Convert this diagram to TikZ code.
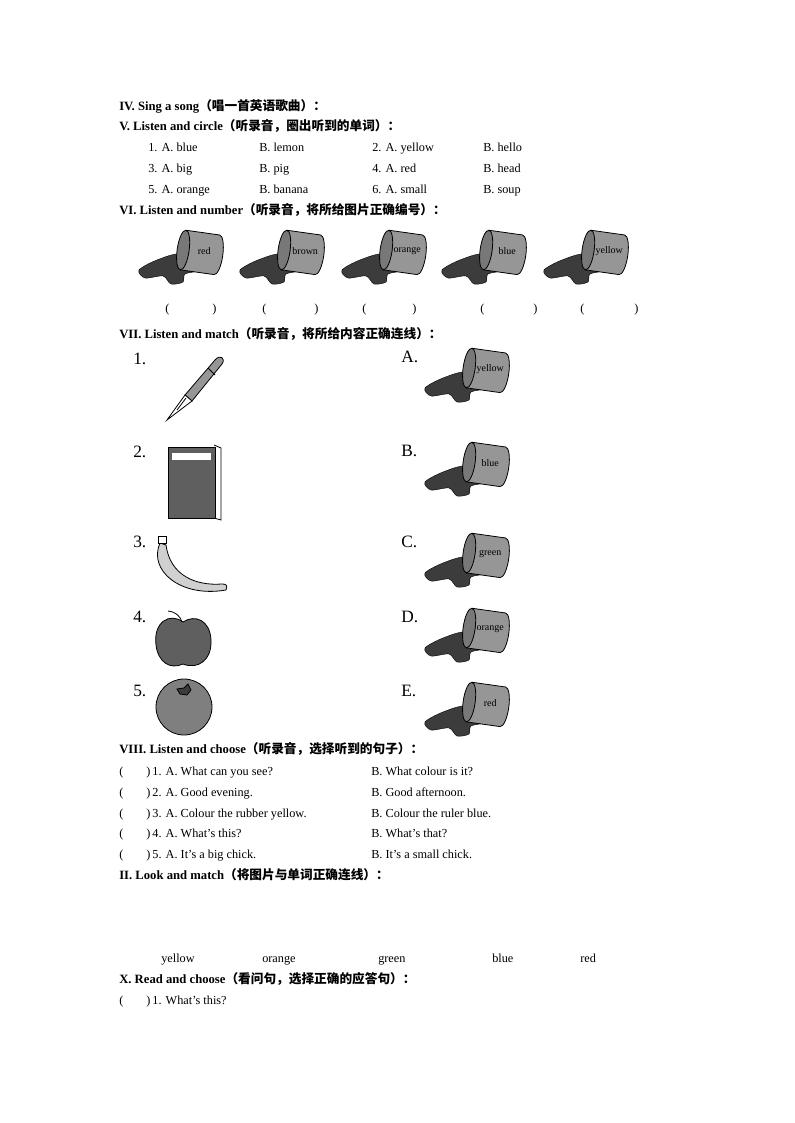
\documentclass[tikz,border=0pt]{standalone}
\usepackage{fontspec}
\setmainfont{Liberation Serif}
\newfontfamily\cjk{Noto Sans CJK SC Bold}
\usetikzlibrary{positioning}
\definecolor{canbody}{RGB}{150,150,150}
\definecolor{spillcolour}{RGB}{60,60,60}
\definecolor{fruitcolour}{RGB}{95,95,95}
\tikzset{
  heading/.style={anchor=west, inner sep=0pt, text height=7pt, text depth=2pt, font=\fontsize{9.5}{11}\selectfont\bfseries},
  item/.style={anchor=west, inner sep=0pt, text height=7pt, text depth=2pt, font=\fontsize{9.2}{11}\selectfont},
  bignum/.style={anchor=west, inner sep=0pt, text height=9pt, text depth=2pt, font=\fontsize{13}{14}\selectfont},
  spill/.style={fill=spillcolour, draw=black, line width=0.3pt},
  can/.style={fill=canbody, draw=black, line width=0.6pt},
  paint can/.pic={
    \fill[spill] plot[smooth cycle] coordinates {(-16,2) (-40,8) (-58,18) (-52,26) (-34,24) (-26,32) (-14,30) (-12,22) (4,17)};
    \begin{scope}[rotate=-8]
      \filldraw[can] (-14,-20) -- (20,-20) arc[start angle=-90, end angle=90, x radius=6, y radius=20] -- (-14,20) -- cycle;
      \filldraw[can, fill=canbody!80!black] (-14,0) ellipse[x radius=6, y radius=20];
      \node[font=\fontsize{7.5}{8}\selectfont, inner sep=0pt] at (7,-2) {#1};
    \end{scope}
  }
}
\newcommand\cn[1]{{\cjk #1}}
\begin{document}
\begin{tikzpicture}[x=0.75pt, y=-0.75pt]
\useasboundingbox (0,0) rectangle (794,1123);
% headings
\node[heading] (h4) at (119,107) {IV. Sing a song\cn{（唱一首英语歌曲）：}};
\node[heading] (h5) at (119,127) {V. Listen and circle\cn{（听录音，圈出听到的单词）：}};
\node[item] at (148,148) {1. A. blue};  \node[item] at (259,148) {B. lemon};
\node[item] at (372,148) {2. A. yellow}; \node[item] at (483,148) {B. hello};
\node[item] at (148,169) {3. A. big};   \node[item] at (259,169) {B. pig};
\node[item] at (372,169) {4. A. red};   \node[item] at (483,169) {B. head};
\node[item] at (148,190) {5. A. orange}; \node[item] at (259,190) {B. banana};
\node[item] at (372,190) {6. A. small}; \node[item] at (483,190) {B. soup};
\node[heading] (h6) at (119,211) {VI. Listen and number\cn{（听录音，将所给图片正确编号）：}};
% number cans
\pic at (197,252) {paint can=red};
\pic at (298,252) {paint can=brown};
\pic at (400,252) {paint can=orange};
\pic at (500,252) {paint can=blue};
\pic at (602,252) {paint can=yellow};
\foreach \a/\b in {165/212, 262/314, 362/412, 480/533, 580/634}{
  \node[item] at (\a,309) {(}; \node[item] at (\b,309) {)};
}
\node[heading] (h7) at (119,335) {VII. Listen and match\cn{（听录音，将所给内容正确连线）：}};
% match rows
\foreach \n/\y in {1/360, 2/453, 3/543, 4/618, 5/692}{
  \node[bignum] (num\n) at (133,\y) {\n.};
}
\foreach \l/\y/\c in {A/358/yellow, B/452/blue, C/543/green, D/618/orange, E/692/red}{
  \node[bignum] (let\l) at (401,\y) {\l.};
  \pic at (483,\y+12) {paint can=\c};
}
% pen
\begin{scope}[line width=0.6pt]
  \filldraw[fill=canbody] (185,395) -- (215,360) .. controls (220,354) and (226,358) .. (222,364) -- (192,401) -- cycle;
  \draw (208,368) -- (215,375);
  \filldraw[fill=white] (185,395) -- (192,401) -- (167,420) -- cycle;
  \draw (186,398) -- (177,410);
% book
  \filldraw[fill=white] (214,445) -- (221,448) -- (221,520) -- (214,518);
  \filldraw[fill=fruitcolour] (168,447) rectangle (215,518);
  \fill[white] (172,453) rectangle (211,460);
% banana
  \filldraw[fill=canbody!45] (160,543) .. controls (148,570) and (180,598) .. (226,590)
     .. controls (228,585) and (226,584) .. (222,584) .. controls (195,586) and (170,575) .. (166,545) -- cycle;
  \filldraw[fill=white] (158,536) rectangle (166,543);
% apple
  \filldraw[fill=fruitcolour] (183,622) .. controls (170,612) and (153,622) .. (156,645)
     .. controls (158,662) and (170,670) .. (183,664) .. controls (198,670) and (212,660) .. (211,640)
     .. controls (210,620) and (195,614) .. (183,622) -- cycle;
  \draw (182,622) .. controls (180,616) and (176,612) .. (168,611);
% orange
  \filldraw[fill=fruitcolour!80] (184,707) circle[radius=28];
  \filldraw[fill=spillcolour] (184,688) -- (188,684) -- (191,690) -- (187,695) -- (180,694) -- (177,689) -- cycle;
\end{scope}
\node[heading] (h8) at (119,750) {VIII. Listen and choose\cn{（听录音，选择听到的句子）：}};
\foreach \y/\n/\a/\b in {772/1/What can you see?/What colour is it?,
  793/2/Good evening./Good afternoon.,
  814/3/Colour the rubber yellow./Colour the ruler blue.,
  834/4/What's this?/What's that?,
  855/5/It's a big chick./It's a small chick.}{
  \node[item] at (119,\y) {(};
  \node[item] at (146,\y) {)\,\n. A. \a};
  \node[item] at (371,\y) {B. \b};
}
\node[heading] (h2) at (119,876) {II. Look and match\cn{（将图片与单词正确连线）：}};
\foreach \x/\c in {161/yellow, 262/orange, 378/green, 492/blue, 580/red}{
  \node[item] (word\c) at (\x,959) {\c};
}
\node[heading] (h10) at (119,980) {X. Read and choose\cn{（看问句，选择正确的应答句）：}};
\node[item] at (119,1001) {(}; \node[item] at (146,1001) {)\,1. What's this?};
\end{tikzpicture}
\end{document}
